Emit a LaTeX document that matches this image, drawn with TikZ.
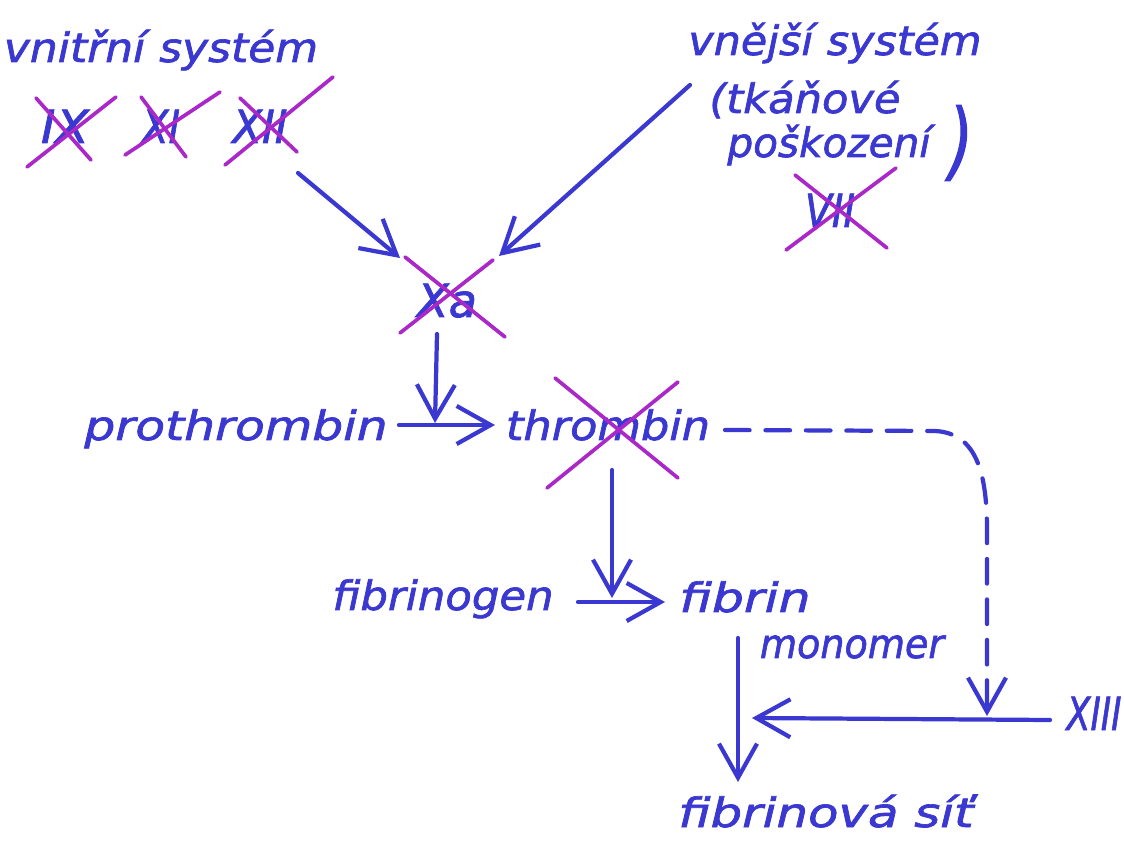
\documentclass[tikz,border=0pt]{standalone}
\usepackage{fontspec}
\usepackage{graphicx}
\setmainfont{DejaVu Sans}
\newfontfamily\hand{DejaVu Sans}[FakeBold=1.6]
\usetikzlibrary{arrows.meta}
\definecolor{ink}{RGB}{58,56,208}
\definecolor{xcol}{RGB}{170,40,200}
\newcommand\hw[2]{\resizebox{#1cm}{\height}{#2}}
\tikzset{
  lbl/.style={text=ink, font=\hand\fontsize{11.5}{13}\selectfont\itshape, inner sep=0pt, anchor=base},
  rom/.style={text=ink, font=\hand\fontsize{13}{15}\selectfont\itshape, inner sep=0pt, anchor=base},
  arr/.style={draw=ink, line width=1.2pt, line cap=round,
    -{Straight Barb[length=3.4mm, width=3.8mm, line width=1.2pt]}},
  dasharr/.style={arr, dash pattern=on 7pt off 4.5pt},
  xmark/.style={draw=xcol, line width=1.05pt, line cap=round},
}
\begin{document}
\begin{tikzpicture}[x=0.01cm, y=-0.01cm]
\useasboundingbox (0,0) rectangle (1124,843);
\fill[white] (0,0) rectangle (1124,843);

% texts
\node[lbl] (int) at (161,62) {\hw{3.14}{vnitřní systém}};
\node[rom] (IX) at (65,143) {\hw{0.48}{IX}};
\node[rom] (XI) at (161,143) {\hw{0.38}{XI}};
\node[rom] (XII) at (260,143) {\hw{0.55}{XII}};
\node[lbl] (ext) at (835,55) {\hw{2.93}{vnější systém}};
\node[lbl] (ext2) at (805,113) {\hw{1.91}{(tkáňové}};
\node[lbl] (ext3) at (829,157) {\hw{2.03}{poškození}};
\node[text=ink, font=\hand\fontsize{24}{24}\selectfont\itshape, inner sep=0pt] (par) at (961,143) {\hw{0.24}{)}};
\node[rom] (VII) at (830,227) {\hw{0.50}{VII}};
\node[rom] (Xa) at (447,317) {\hw{0.60}{Xa}};
\node[lbl] (pro) at (236,440) {\hw{3.03}{prothrombin}};
\node[lbl] (thr) at (608,440) {\hw{2.04}{thrombin}};
\node[lbl] (fgen) at (443,610) {\hw{2.21}{fibrinogen}};
\node[lbl] (fib) at (745,612) {\hw{1.31}{fibrin}};
\node[lbl] (mono) at (852,658) {\hw{1.84}{monomer}};
\node[rom] (XIII) at (1094,730) {\hw{0.55}{XIII}};
\node[lbl] (net) at (826,827) {\hw{2.95}{fibrinová síť}};

% crosses
\draw[xmark] (27,167) -- (116,97);  \draw[xmark] (36,98) -- (91,160);
\draw[xmark] (125,155) -- (220,92); \draw[xmark] (141,97) -- (186,157);
\draw[xmark] (225,165) -- (333,77); \draw[xmark] (240,98) -- (297,152);
\draw[xmark] (786,250) -- (896,168); \draw[xmark] (795,175) -- (887,248);
\draw[xmark] (400,333) -- (493,260); \draw[xmark] (405,257) -- (505,337);
\draw[xmark] (547,488) -- (678,382); \draw[xmark] (555,378) -- (678,478);

% connector end points
\coordinate (s1) at (298,173);
\coordinate (e1) at (400,258);
\coordinate (s2) at (690,85);
\coordinate (e2) at (499,256);
\coordinate (s3) at (437,334);
\coordinate (j1) at (435,423);
\coordinate (p1) at (399,425);
\coordinate (p2) at (495,425);
\coordinate (t1) at (612,470);
\coordinate (j2) at (612,598);
\coordinate (f1) at (578,602);
\coordinate (f2) at (665,602);
\coordinate (m1) at (738,638);
\coordinate (m2) at (738,782);
\coordinate (x1) at (1050,720);
\coordinate (j3) at (752,718);
\coordinate (d1) at (725,430);
\coordinate (j4) at (987,716);

% connectors
\draw[arr] (s1) -- (e1);
\draw[arr] (s2) -- (e2);
\draw[arr] (s3) -- (j1);
\draw[arr] (p1) -- (p2);
\draw[arr] (t1) -- (j2);
\draw[arr] (f1) -- (f2);
\draw[arr] (m1) -- (m2);
\draw[arr] (x1) -- (j3);
\draw[dasharr] (d1) -- (935,431)
   .. controls (975,433) and (987,470) .. (987,530) -- (j4);
\end{tikzpicture}
\end{document}
